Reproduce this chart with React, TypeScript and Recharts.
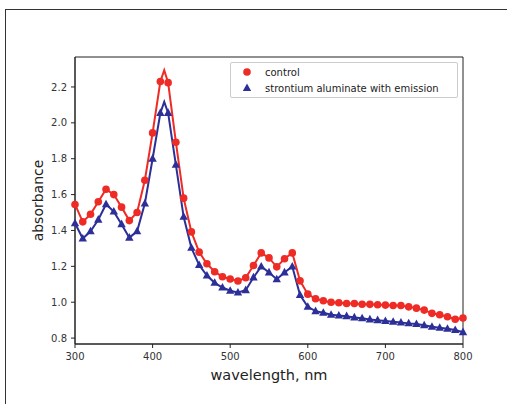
import React from 'react';
import { LineChart, Line, XAxis, YAxis, ReferenceArea } from 'recharts';

const wavelengths = [300, 310, 320, 330, 340, 350, 360, 370, 380, 390, 400, 410, 415, 420, 430, 440, 450, 460, 470, 480, 490, 500, 510, 520, 530, 540, 550, 560, 570, 580, 590, 600, 610, 620, 630, 640, 650, 660, 670, 680, 690, 700, 710, 720, 730, 740, 750, 760, 770, 780, 790, 800];

const control = [1.545, 1.448, 1.49, 1.56, 1.63, 1.6, 1.53, 1.455, 1.5, 1.68, 1.944, 2.23, 2.293, 2.224, 1.892, 1.58, 1.392, 1.279, 1.214, 1.17, 1.142, 1.129, 1.118, 1.136, 1.205, 1.275, 1.247, 1.197, 1.242, 1.275, 1.119, 1.045, 1.019, 1.008, 1.0, 0.997, 0.993, 0.993, 0.989, 0.988, 0.986, 0.984, 0.982, 0.982, 0.974, 0.967, 0.956, 0.938, 0.93, 0.919, 0.905, 0.912];

const strontium = [1.44, 1.355, 1.395, 1.46, 1.546, 1.505, 1.435, 1.36, 1.395, 1.55, 1.8, 2.055, 2.117, 2.055, 1.766, 1.476, 1.303, 1.207, 1.149, 1.108, 1.082, 1.064, 1.054, 1.067, 1.138, 1.199, 1.166, 1.128, 1.166, 1.199, 1.04, 0.974, 0.95, 0.941, 0.93, 0.926, 0.922, 0.915, 0.91, 0.904, 0.9, 0.895, 0.891, 0.887, 0.882, 0.878, 0.871, 0.863, 0.857, 0.852, 0.845, 0.833];

const xTicks = [300, 400, 500, 600, 700, 800];
const yTicks = [0.8, 1.0, 1.2, 1.4, 1.6, 1.8, 2.0, 2.2];
const seriesNames = ['control', 'strontium aluminate with emission'];

const RED = '#ee2b25';
const BLUE = '#2c2f98';
const FONT = '"DejaVu Sans", sans-serif';
const Y_MIN = 0.767;
const Y_MAX = 2.367;

const data = wavelengths.map((wl, i) => ({ wl, control: control[i], strontium: strontium[i] }));

const circleDot = (props: any) => {
  const { cx, cy, payload, index } = props;
  if (payload.wl % 10 !== 0 || cx == null || cy == null) return <g key={`c${index}`} />;
  return <circle key={`c${index}`} cx={cx} cy={cy} r={3.8} fill={RED} stroke="none" />;
};

const triDot = (props: any) => {
  const { cx, cy, payload, index } = props;
  if (payload.wl % 10 !== 0 || cx == null || cy == null) return <g key={`t${index}`} />;
  const pts = `${cx},${cy - 4.6} ${cx - 4.2},${cy + 3} ${cx + 4.2},${cy + 3}`;
  return <polygon key={`t${index}`} points={pts} fill={BLUE} stroke="none" />;
};

const tickStyle = { fontSize: 10, fill: '#333', fontFamily: FONT };

export default function App() {
  return (
    <div style={{ position: 'absolute', left: 0, top: 0, width: 507, height: 404, background: '#fff', overflow: 'hidden' }}>
      <div style={{ position: 'absolute', left: 5, top: 9, width: 510, height: 400, borderTop: '1.2px solid #333', borderLeft: '1.2px solid #333' }} />
      <LineChart
        width={507}
        height={404}
        data={data}
        margin={{ top: 57, right: 44, bottom: 34, left: 30 }}
        style={{ position: 'absolute', left: 0, top: 0 }}
      >
        <XAxis
          dataKey="wl"
          type="number"
          domain={[300, 800]}
          ticks={xTicks}
          height={26}
          tickSize={4}
          tickMargin={5}
          tick={tickStyle}
          stroke="#222"
          axisLine={{ stroke: '#222' }}
          tickLine={{ stroke: '#222' }}
          label={{ value: 'wavelength, nm', position: 'bottom', offset: 0, style: { fontSize: 14.5, fill: '#222', fontFamily: FONT } }}
        />
        <YAxis
          type="number"
          domain={[Y_MIN, Y_MAX]}
          allowDataOverflow
          ticks={yTicks}
          width={45}
          tickSize={4}
          tickMargin={4}
          tick={tickStyle}
          tickFormatter={(v: number) => v.toFixed(1)}
          axisLine={{ stroke: '#222' }}
          tickLine={{ stroke: '#222' }}
          label={{ value: 'absorbance', angle: -90, position: 'insideLeft', offset: 8, style: { fontSize: 14, fill: '#222', fontFamily: FONT, textAnchor: 'middle' } }}
        />
        <ReferenceArea x1={300} x2={800} y1={Y_MIN} y2={Y_MAX} fill="none" fillOpacity={0} stroke="#222" strokeWidth={1} />
        <Line
          type="linear"
          dataKey="control"
          name={seriesNames[0]}
          stroke={RED}
          strokeWidth={2}
          dot={circleDot}
          activeDot={false}
          isAnimationActive={false}
        />
        <Line
          type="linear"
          dataKey="strontium"
          name={seriesNames[1]}
          stroke={BLUE}
          strokeWidth={2}
          dot={triDot}
          activeDot={false}
          isAnimationActive={false}
        />
      </LineChart>
      <div
        style={{
          position: 'absolute',
          left: 230,
          top: 62,
          width: 228,
          height: 36,
          boxSizing: 'border-box',
          border: '1px solid #ccc',
          borderRadius: 2,
          background: 'rgba(255,255,255,0.85)',
          fontFamily: FONT,
          fontSize: 10,
          color: '#222',
        }}
      >
        {seriesNames.map((name, i) => (
          <div key={name} style={{ position: 'absolute', left: 0, top: i === 0 ? 2 : 18, height: 14, width: 226, display: 'flex', alignItems: 'center' }}>
            <svg width={30} height={14} style={{ flex: 'none' }}>
              {i === 0 ? (
                <circle cx={16} cy={7} r={3.8} fill={RED} />
              ) : (
                <polygon points="16,2.4 11.8,10 20.2,10" fill={BLUE} />
              )}
            </svg>
            <span style={{ marginLeft: 4, whiteSpace: 'nowrap' }}>{name}</span>
          </div>
        ))}
      </div>
    </div>
  );
}
